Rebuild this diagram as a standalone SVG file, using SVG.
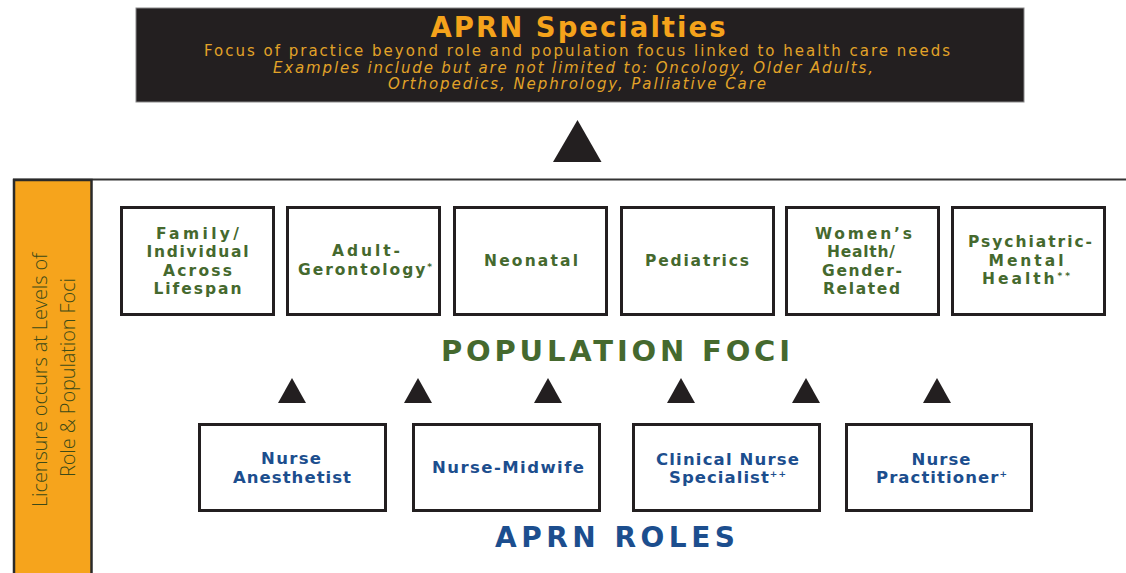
<svg xmlns="http://www.w3.org/2000/svg" width="1126" height="573" viewBox="0 0 1126 573">
<style>
.pbox{fill:#fff;stroke:#231F20;stroke-width:3}
.rbox{fill:#fff;stroke:#231F20;stroke-width:3}
.pt{font-family:"DejaVu Sans","Liberation Sans",sans-serif;font-weight:bold;font-size:15.5px;fill:#45692e;text-anchor:middle}
.rt{font-family:"DejaVu Sans","Liberation Sans",sans-serif;font-weight:bold;font-size:16.5px;fill:#1c4e8e;text-anchor:middle}
.sup{font-size:9px}
.tri{fill:#231F20}
.hd{font-family:"DejaVu Sans","Liberation Sans",sans-serif;font-weight:bold;text-anchor:middle}
.sub{font-family:"DejaVu Sans",sans-serif;font-size:15px;fill:#E2A328;text-anchor:middle}
.side{font-family:"Open Sans","Lato","Liberation Sans",sans-serif;font-weight:300;font-size:20px;fill:#3c4a18;text-anchor:middle}
</style>

<g id="specialties">
  <rect x="136" y="8" width="888" height="94" fill="#231F20" stroke="#888" stroke-width="1"/>
  <text class="hd" x="578" y="37" font-size="27.5" fill="#F5A31B" textLength="295" lengthAdjust="spacing">APRN Specialties</text>
  <text class="sub" x="577" y="56" textLength="746" lengthAdjust="spacing">Focus of practice beyond role and population focus linked to health care needs</text>
  <text class="sub" x="573" y="72.5" font-style="italic" textLength="600" lengthAdjust="spacing">Examples include but are not limited to: Oncology, Older Adults,</text>
  <text class="sub" x="577" y="89" font-style="italic" textLength="378" lengthAdjust="spacing">Orthopedics, Nephrology, Palliative Care</text>
</g>

<g id="frame">
  <line x1="13" y1="179.5" x2="1126" y2="179.5" stroke="#333" stroke-width="2"/>
  <rect x="14" y="180" width="77.5" height="400" fill="#F6A41C" stroke="#2a2a2a" stroke-width="2.5"/>
  <text class="side" transform="translate(47,380) rotate(-90)" textLength="254" lengthAdjust="spacing">Licensure occurs at Levels of</text>
  <text class="side" transform="translate(75,377.5) rotate(-90)" textLength="199" lengthAdjust="spacing">Role &amp; Population Foci</text>
</g>

<g id="pop-family">
  <rect class="pbox" x="121.5" y="207.5" width="152" height="107"/>
  <text class="pt" x="197.5" y="238.5" textLength="83" lengthAdjust="spacing">Family/</text>
  <text class="pt" x="197.5" y="257" textLength="102" lengthAdjust="spacing">Individual</text>
  <text class="pt" x="197.5" y="275.5" textLength="69" lengthAdjust="spacing">Across</text>
  <text class="pt" x="197.5" y="294" textLength="88" lengthAdjust="spacing">Lifespan</text>
</g>
<g id="pop-adult">
  <rect class="pbox" x="287.5" y="207.5" width="152" height="107"/>
  <text class="pt" x="366" y="255.5" textLength="68" lengthAdjust="spacing">Adult-</text>
  <text class="pt" x="365" y="274.5" textLength="134" lengthAdjust="spacing">Gerontology<tspan class="sup" dy="-5">*</tspan></text>
</g>
<g id="pop-neonatal">
  <rect class="pbox" x="454.5" y="207.5" width="152" height="107"/>
  <text class="pt" x="531" y="265.5" textLength="94" lengthAdjust="spacing">Neonatal</text>
</g>
<g id="pop-pediatrics">
  <rect class="pbox" x="621.5" y="207.5" width="152" height="107"/>
  <text class="pt" x="697" y="265.5" textLength="104" lengthAdjust="spacing">Pediatrics</text>
</g>
<g id="pop-women">
  <rect class="pbox" x="786.5" y="207.5" width="152" height="107"/>
  <text class="pt" x="863.5" y="238.5" textLength="97" lengthAdjust="spacing">Women’s</text>
  <text class="pt" x="861" y="257" textLength="68" lengthAdjust="spacing">Health/</text>
  <text class="pt" x="862" y="275.5" textLength="80" lengthAdjust="spacing">Gender-</text>
  <text class="pt" x="861.5" y="294" textLength="77" lengthAdjust="spacing">Related</text>
</g>
<g id="pop-psych">
  <rect class="pbox" x="952.5" y="207.5" width="152" height="107"/>
  <text class="pt" x="1030" y="247" textLength="124" lengthAdjust="spacing">Psychiatric-</text>
  <text class="pt" x="1026" y="265.5" textLength="75" lengthAdjust="spacing">Mental</text>
  <text class="pt" x="1026" y="284" textLength="88" lengthAdjust="spacing">Health<tspan class="sup" dy="-5">**</tspan></text>
</g>

<text id="population-foci" class="hd" x="615.5" y="360.5" font-size="29" fill="#45692e" textLength="349" lengthAdjust="spacing">POPULATION FOCI</text>

<g id="connectors">
  <polygon class="tri" points="553,162 601.5,162 577.5,120"/>
  <polygon class="tri" points="278,403 306,403 292,378"/>
  <polygon class="tri" points="404,403 432,403 418,378"/>
  <polygon class="tri" points="534,403 562,403 548,378"/>
  <polygon class="tri" points="667,403 695,403 681,378"/>
  <polygon class="tri" points="792,403 820,403 806,378"/>
  <polygon class="tri" points="923,403 951,403 937,378"/>
</g>

<g id="role-crna">
  <rect class="rbox" x="199.5" y="424.5" width="186" height="86"/>
  <text class="rt" x="291" y="464" textLength="60" lengthAdjust="spacing">Nurse</text>
  <text class="rt" x="292" y="482.5" textLength="118" lengthAdjust="spacing">Anesthetist</text>
</g>
<g id="role-cnm">
  <rect class="rbox" x="413.5" y="424.5" width="186" height="86"/>
  <text class="rt" x="508" y="473" textLength="152" lengthAdjust="spacing">Nurse-Midwife</text>
</g>
<g id="role-cns">
  <rect class="rbox" x="633.5" y="424.5" width="186" height="86"/>
  <text class="rt" x="727.5" y="464.5" textLength="143" lengthAdjust="spacing">Clinical Nurse</text>
  <text class="rt" x="727.5" y="483" textLength="117" lengthAdjust="spacing">Specialist<tspan class="sup" dy="-6">++</tspan></text>
</g>
<g id="role-np">
  <rect class="rbox" x="846.5" y="424.5" width="185" height="86"/>
  <text class="rt" x="941" y="464.5" textLength="59" lengthAdjust="spacing">Nurse</text>
  <text class="rt" x="941.5" y="483" textLength="131" lengthAdjust="spacing">Practitioner<tspan class="sup" dy="-6">+</tspan></text>
</g>

<text id="aprn-roles" class="hd" x="615" y="546.5" font-size="28" fill="#1c4e8e" textLength="240" lengthAdjust="spacing">APRN ROLES</text>
</svg>
